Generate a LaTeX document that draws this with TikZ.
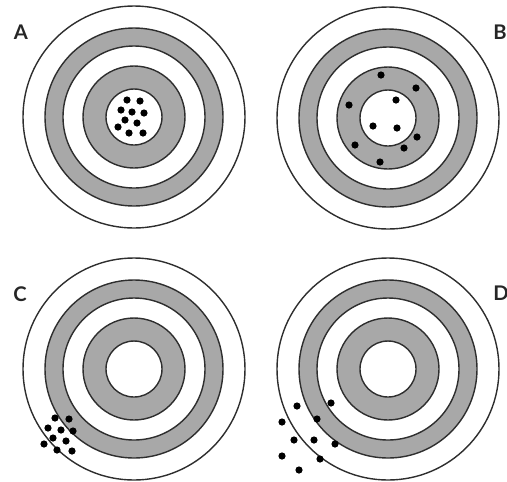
\documentclass[tikz,border=0pt]{standalone}
\usepackage{fontspec}
\setsansfont{Lato}
\usepackage{xcolor}
\usetikzlibrary{positioning}
\definecolor{tgtgray}{HTML}{A8A8A8}
\definecolor{tgtline}{HTML}{2E2E2E}
\tikzset{
  ring/.style={draw=tgtline,line width=0.8pt},
  band/.style={fill=tgtgray,even odd rule},
  shot/.style={fill=black},
  tlabel/.style={font=\sffamily\bfseries\fontsize{11.5}{12}\selectfont,text=black!85,inner sep=0pt},
}
\begin{document}
\begin{tikzpicture}[x=0.02cm,y=-0.02cm]
  \useasboundingbox (0,0) rectangle (507,481);
  % the four targets
  \foreach \cx/\cy/\name/\lx/\ly in {134/117/A/21/32, 388/118/B/500/32, 134/369/C/20/294, 388/369/D/501/293} {
     \fill[band] (\cx,\cy) circle (89) circle (71);
     \fill[band] (\cx,\cy) circle (51) circle (28);
     \foreach \r in {111,89,71,51,28} { \draw[ring] (\cx,\cy) circle (\r); }
     \node[tlabel] (lab\name) at (\lx,\ly) {\name};
  }
  % A: tight group in the centre
  \foreach \x/\y in {127/100,140/101,121/110,132/112,144/113,125/120,137/123,118/127,129/133,143/133}
     { \fill[shot] (\x,\y) circle (3.6); }
  % B: spread round the centre
  \foreach \x/\y in {381/75,416/88,349/105,396/100,373/126,397/128,417/137,355/145,404/148,380/162}
     { \fill[shot] (\x,\y) circle (3.6); }
  % C: tight group off centre
  \foreach \x/\y in {55/418,69/419,48/428,61/430,73/431,53/438,66/441,44/444,57/450,72/451}
     { \fill[shot] (\x,\y) circle (3.6); }
  % D: spread off centre
  \foreach \x/\y in {297/406,331/403,282/422,317/419,294/440,314/440,335/444,282/456,320/459,299/470}
     { \fill[shot] (\x,\y) circle (3.6); }
\end{tikzpicture}
\end{document}
